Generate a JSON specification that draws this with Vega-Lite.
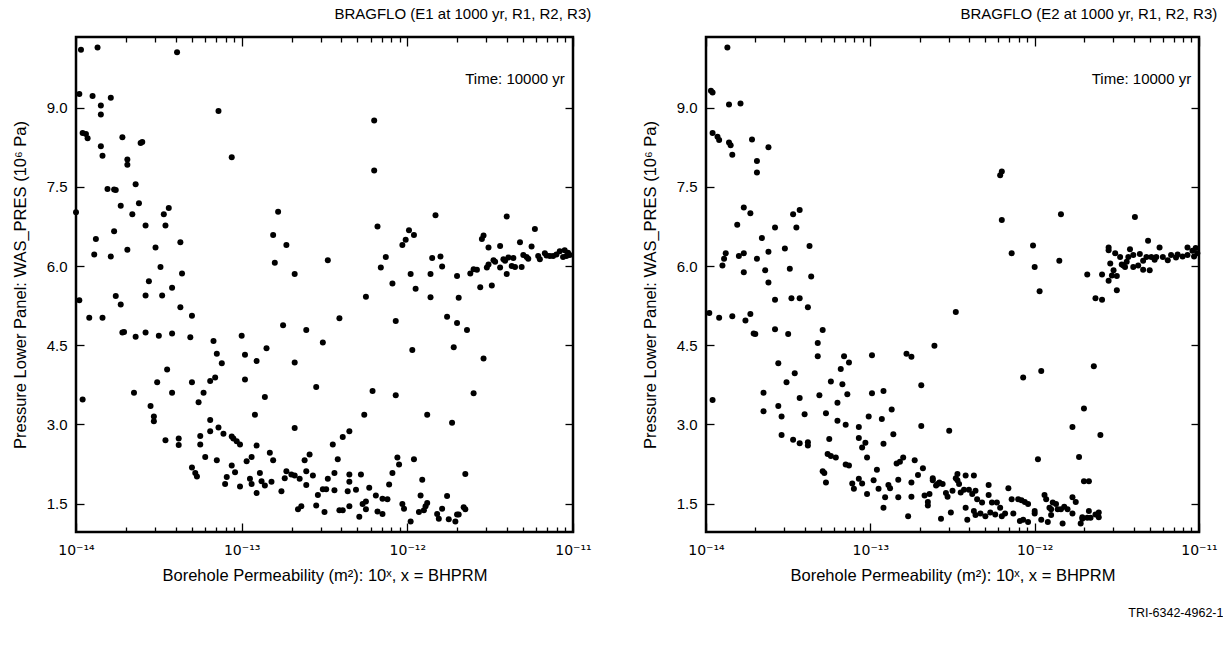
{
  "$schema": "https://vega.github.io/schema/vega-lite/v6.json",
  "background": "white",
  "padding": {"left": 10, "top": 6, "right": 24, "bottom": 5},
  "config": {
    "font": "Liberation Sans",
    "view": {"stroke": "black", "strokeWidth": 2.5},
    "axis": {"labelColor": "black", "titleColor": "black", "tickColor": "black", "tickWidth": 1.3, "labelFontSize": 15, "titleFontSize": 16.5, "titleFontWeight": "normal", "domain": false, "grid": false},
    "title": {"color": "black", "fontWeight": "normal"}
  },
  "datasets": {
    "e1": [
      {"bhprm": -14.00, "pres": 7.02}, {"bhprm": -13.98, "pres": 9.26}, {"bhprm": -13.98, "pres": 5.35}, {"bhprm": -13.97, "pres": 10.10}, {"bhprm": -13.96, "pres": 8.52}, {"bhprm": -13.94, "pres": 8.50}, {"bhprm": -13.93, "pres": 8.42}, {"bhprm": -13.92, "pres": 5.02}, {"bhprm": -13.89, "pres": 6.22}, {"bhprm": -13.88, "pres": 6.51}, {"bhprm": -13.87, "pres": 10.14}, {"bhprm": -13.90, "pres": 9.22}, {"bhprm": -13.85, "pres": 9.04}, {"bhprm": -13.85, "pres": 8.87}, {"bhprm": -13.85, "pres": 8.27}, {"bhprm": -13.84, "pres": 8.09}, {"bhprm": -13.84, "pres": 5.02}, {"bhprm": -13.81, "pres": 7.46}, {"bhprm": -13.79, "pres": 9.19}, {"bhprm": -13.79, "pres": 6.18}, {"bhprm": -13.77, "pres": 7.45}, {"bhprm": -13.76, "pres": 7.44}, {"bhprm": -13.77, "pres": 6.66}, {"bhprm": -13.76, "pres": 5.43}, {"bhprm": -13.73, "pres": 7.14}, {"bhprm": -13.73, "pres": 5.27}, {"bhprm": -13.72, "pres": 8.44}, {"bhprm": -13.69, "pres": 8.02}, {"bhprm": -13.69, "pres": 7.92}, {"bhprm": -13.69, "pres": 6.31}, {"bhprm": -13.66, "pres": 6.98}, {"bhprm": -13.64, "pres": 7.55}, {"bhprm": -13.62, "pres": 7.19}, {"bhprm": -13.61, "pres": 8.33}, {"bhprm": -13.60, "pres": 8.35}, {"bhprm": -13.58, "pres": 6.77}, {"bhprm": -13.58, "pres": 5.44}, {"bhprm": -13.56, "pres": 5.71}, {"bhprm": -13.52, "pres": 6.35}, {"bhprm": -13.49, "pres": 5.98}, {"bhprm": -13.47, "pres": 6.98}, {"bhprm": -13.48, "pres": 5.44}, {"bhprm": -13.46, "pres": 6.77}, {"bhprm": -13.44, "pres": 7.10}, {"bhprm": -13.42, "pres": 5.59}, {"bhprm": -13.39, "pres": 10.05}, {"bhprm": -13.37, "pres": 6.45}, {"bhprm": -13.36, "pres": 5.86}, {"bhprm": -13.37, "pres": 5.22}, {"bhprm": -13.30, "pres": 5.06}, {"bhprm": -13.14, "pres": 8.94}, {"bhprm": -13.06, "pres": 8.06}, {"bhprm": -12.81, "pres": 6.59}, {"bhprm": -12.78, "pres": 7.03}, {"bhprm": -12.80, "pres": 6.06}, {"bhprm": -12.73, "pres": 6.40}, {"bhprm": -12.75, "pres": 4.88}, {"bhprm": -12.68, "pres": 5.85}, {"bhprm": -12.61, "pres": 4.79}, {"bhprm": -12.48, "pres": 6.11}, {"bhprm": -12.41, "pres": 5.01}, {"bhprm": -12.25, "pres": 5.42}, {"bhprm": -12.20, "pres": 8.76}, {"bhprm": -12.20, "pres": 7.81}, {"bhprm": -12.18, "pres": 6.75}, {"bhprm": -12.16, "pres": 5.97}, {"bhprm": -12.13, "pres": 6.17}, {"bhprm": -12.09, "pres": 5.67}, {"bhprm": -12.07, "pres": 4.96}, {"bhprm": -12.03, "pres": 6.40}, {"bhprm": -12.01, "pres": 6.50}, {"bhprm": -11.99, "pres": 6.68}, {"bhprm": -11.96, "pres": 6.59}, {"bhprm": -11.98, "pres": 5.85}, {"bhprm": -11.95, "pres": 5.57}, {"bhprm": -11.86, "pres": 5.85}, {"bhprm": -11.86, "pres": 5.41}, {"bhprm": -11.85, "pres": 6.15}, {"bhprm": -11.83, "pres": 6.96}, {"bhprm": -11.80, "pres": 6.18}, {"bhprm": -11.79, "pres": 5.99}, {"bhprm": -11.76, "pres": 5.04}, {"bhprm": -11.70, "pres": 5.81}, {"bhprm": -11.69, "pres": 5.40}, {"bhprm": -11.70, "pres": 4.92}, {"bhprm": -11.64, "pres": 4.79}, {"bhprm": -11.62, "pres": 5.86}, {"bhprm": -11.60, "pres": 5.94}, {"bhprm": -11.58, "pres": 5.93}, {"bhprm": -11.56, "pres": 5.60}, {"bhprm": -11.55, "pres": 6.51}, {"bhprm": -11.54, "pres": 6.58}, {"bhprm": -11.52, "pres": 5.97}, {"bhprm": -11.51, "pres": 6.03}, {"bhprm": -11.51, "pres": 6.35}, {"bhprm": -11.49, "pres": 5.63}, {"bhprm": -11.48, "pres": 6.11}, {"bhprm": -11.47, "pres": 6.08}, {"bhprm": -11.44, "pres": 6.38}, {"bhprm": -11.44, "pres": 5.97}, {"bhprm": -11.42, "pres": 6.13}, {"bhprm": -11.40, "pres": 6.94}, {"bhprm": -11.40, "pres": 5.85}, {"bhprm": -11.41, "pres": 6.10}, {"bhprm": -11.39, "pres": 6.16}, {"bhprm": -11.37, "pres": 6.00}, {"bhprm": -11.36, "pres": 6.15}, {"bhprm": -11.35, "pres": 5.98}, {"bhprm": -11.32, "pres": 6.45}, {"bhprm": -11.31, "pres": 5.98}, {"bhprm": -11.30, "pres": 6.21}, {"bhprm": -11.28, "pres": 6.17}, {"bhprm": -11.27, "pres": 6.14}, {"bhprm": -11.25, "pres": 6.37}, {"bhprm": -11.23, "pres": 6.70}, {"bhprm": -11.21, "pres": 6.19}, {"bhprm": -11.20, "pres": 6.13}, {"bhprm": -11.17, "pres": 6.24}, {"bhprm": -11.16, "pres": 6.20}, {"bhprm": -11.14, "pres": 6.19}, {"bhprm": -11.12, "pres": 6.19}, {"bhprm": -11.10, "pres": 6.22}, {"bhprm": -11.08, "pres": 6.28}, {"bhprm": -11.06, "pres": 6.17}, {"bhprm": -11.05, "pres": 6.30}, {"bhprm": -11.04, "pres": 6.19}, {"bhprm": -11.03, "pres": 6.25}, {"bhprm": -11.02, "pres": 6.21},
      {"bhprm": -13.96, "pres": 3.47}, {"bhprm": -13.72, "pres": 4.74}, {"bhprm": -13.71, "pres": 4.75}, {"bhprm": -13.64, "pres": 4.66}, {"bhprm": -13.65, "pres": 3.60}, {"bhprm": -13.58, "pres": 4.74}, {"bhprm": -13.55, "pres": 3.35}, {"bhprm": -13.53, "pres": 3.15}, {"bhprm": -13.53, "pres": 3.06}, {"bhprm": -13.50, "pres": 4.68}, {"bhprm": -13.51, "pres": 3.80}, {"bhprm": -13.45, "pres": 4.04}, {"bhprm": -13.46, "pres": 2.70}, {"bhprm": -13.42, "pres": 3.60}, {"bhprm": -13.42, "pres": 4.72}, {"bhprm": -13.38, "pres": 2.73}, {"bhprm": -13.38, "pres": 2.61}, {"bhprm": -13.31, "pres": 4.65}, {"bhprm": -13.30, "pres": 3.80}, {"bhprm": -13.30, "pres": 2.18}, {"bhprm": -13.28, "pres": 2.08}, {"bhprm": -13.27, "pres": 2.01}, {"bhprm": -13.26, "pres": 3.42}, {"bhprm": -13.25, "pres": 2.62}, {"bhprm": -13.25, "pres": 2.78}, {"bhprm": -13.23, "pres": 3.60}, {"bhprm": -13.22, "pres": 2.38}, {"bhprm": -13.19, "pres": 3.82}, {"bhprm": -13.16, "pres": 3.89}, {"bhprm": -13.19, "pres": 3.08}, {"bhprm": -13.19, "pres": 2.87}, {"bhprm": -13.17, "pres": 4.58}, {"bhprm": -13.15, "pres": 4.34}, {"bhprm": -13.15, "pres": 2.32}, {"bhprm": -13.14, "pres": 2.94}, {"bhprm": -13.12, "pres": 4.16}, {"bhprm": -13.11, "pres": 2.82}, {"bhprm": -13.10, "pres": 1.87}, {"bhprm": -13.09, "pres": 2.00}, {"bhprm": -13.06, "pres": 2.22}, {"bhprm": -13.06, "pres": 2.77}, {"bhprm": -13.05, "pres": 2.73}, {"bhprm": -13.03, "pres": 2.68}, {"bhprm": -13.01, "pres": 2.62}, {"bhprm": -13.04, "pres": 2.09}, {"bhprm": -13.01, "pres": 1.82}, {"bhprm": -13.00, "pres": 4.68}, {"bhprm": -12.98, "pres": 4.32}, {"bhprm": -12.98, "pres": 3.85}, {"bhprm": -12.97, "pres": 2.30}, {"bhprm": -12.94, "pres": 2.38}, {"bhprm": -12.95, "pres": 1.97}, {"bhprm": -12.94, "pres": 1.87}, {"bhprm": -12.92, "pres": 3.18}, {"bhprm": -12.91, "pres": 2.60}, {"bhprm": -12.91, "pres": 4.20}, {"bhprm": -12.91, "pres": 1.70}, {"bhprm": -12.89, "pres": 2.08}, {"bhprm": -12.88, "pres": 1.92}, {"bhprm": -12.86, "pres": 1.84}, {"bhprm": -12.86, "pres": 3.52}, {"bhprm": -12.85, "pres": 4.44}, {"bhprm": -12.83, "pres": 2.46}, {"bhprm": -12.81, "pres": 2.32}, {"bhprm": -12.82, "pres": 1.91}, {"bhprm": -12.76, "pres": 1.73}, {"bhprm": -12.74, "pres": 1.98}, {"bhprm": -12.73, "pres": 2.11}, {"bhprm": -12.70, "pres": 2.05}, {"bhprm": -12.68, "pres": 2.03}, {"bhprm": -12.65, "pres": 1.97}, {"bhprm": -12.68, "pres": 2.93}, {"bhprm": -12.68, "pres": 4.17}, {"bhprm": -12.66, "pres": 1.39}, {"bhprm": -12.64, "pres": 1.45}, {"bhprm": -12.61, "pres": 1.85}, {"bhprm": -12.62, "pres": 2.32}, {"bhprm": -12.61, "pres": 2.11}, {"bhprm": -12.59, "pres": 2.43}, {"bhprm": -12.57, "pres": 2.03}, {"bhprm": -12.55, "pres": 3.71}, {"bhprm": -12.55, "pres": 1.46}, {"bhprm": -12.54, "pres": 1.66}, {"bhprm": -12.51, "pres": 4.55}, {"bhprm": -12.51, "pres": 1.77}, {"bhprm": -12.49, "pres": 1.77}, {"bhprm": -12.44, "pres": 1.75}, {"bhprm": -12.50, "pres": 1.34}, {"bhprm": -12.48, "pres": 1.97}, {"bhprm": -12.45, "pres": 2.62}, {"bhprm": -12.44, "pres": 2.08}, {"bhprm": -12.42, "pres": 2.34}, {"bhprm": -12.41, "pres": 1.37}, {"bhprm": -12.39, "pres": 1.37}, {"bhprm": -12.39, "pres": 2.76}, {"bhprm": -12.35, "pres": 2.87}, {"bhprm": -12.36, "pres": 1.73}, {"bhprm": -12.35, "pres": 2.05}, {"bhprm": -12.35, "pres": 1.91}, {"bhprm": -12.35, "pres": 1.45}, {"bhprm": -12.31, "pres": 1.76}, {"bhprm": -12.29, "pres": 1.25}, {"bhprm": -12.28, "pres": 2.05}, {"bhprm": -12.27, "pres": 1.49}, {"bhprm": -12.25, "pres": 1.54}, {"bhprm": -12.25, "pres": 1.39}, {"bhprm": -12.26, "pres": 3.18}, {"bhprm": -12.23, "pres": 1.80}, {"bhprm": -12.21, "pres": 3.63}, {"bhprm": -12.19, "pres": 1.65}, {"bhprm": -12.18, "pres": 1.35}, {"bhprm": -12.15, "pres": 1.59}, {"bhprm": -12.12, "pres": 1.58}, {"bhprm": -12.15, "pres": 1.30}, {"bhprm": -12.11, "pres": 1.86}, {"bhprm": -12.09, "pres": 2.08}, {"bhprm": -12.07, "pres": 3.55}, {"bhprm": -12.06, "pres": 2.37}, {"bhprm": -12.05, "pres": 2.24}, {"bhprm": -12.03, "pres": 1.49}, {"bhprm": -12.02, "pres": 1.40}, {"bhprm": -11.98, "pres": 1.16}, {"bhprm": -11.97, "pres": 4.41}, {"bhprm": -11.96, "pres": 2.34}, {"bhprm": -11.93, "pres": 1.34}, {"bhprm": -11.92, "pres": 1.65}, {"bhprm": -11.91, "pres": 1.95}, {"bhprm": -11.90, "pres": 1.37}, {"bhprm": -11.89, "pres": 1.45}, {"bhprm": -11.88, "pres": 1.51}, {"bhprm": -11.88, "pres": 3.18}, {"bhprm": -11.82, "pres": 1.30}, {"bhprm": -11.81, "pres": 1.21}, {"bhprm": -11.79, "pres": 1.40}, {"bhprm": -11.76, "pres": 1.64}, {"bhprm": -11.75, "pres": 1.20}, {"bhprm": -11.71, "pres": 1.16}, {"bhprm": -11.73, "pres": 3.03}, {"bhprm": -11.72, "pres": 4.46}, {"bhprm": -11.70, "pres": 1.29}, {"bhprm": -11.69, "pres": 1.29}, {"bhprm": -11.66, "pres": 1.43}, {"bhprm": -11.65, "pres": 1.39}, {"bhprm": -11.65, "pres": 2.06}, {"bhprm": -11.60, "pres": 3.59}, {"bhprm": -11.54, "pres": 4.25}
    ],
    "e2": [
      {"bhprm": -13.97, "pres": 9.32}, {"bhprm": -13.96, "pres": 9.29}, {"bhprm": -13.96, "pres": 8.52}, {"bhprm": -13.93, "pres": 8.45}, {"bhprm": -13.92, "pres": 8.39}, {"bhprm": -13.98, "pres": 5.11}, {"bhprm": -13.92, "pres": 5.02}, {"bhprm": -13.90, "pres": 6.01}, {"bhprm": -13.89, "pres": 6.14}, {"bhprm": -13.88, "pres": 6.24}, {"bhprm": -13.87, "pres": 10.14}, {"bhprm": -13.86, "pres": 9.06}, {"bhprm": -13.79, "pres": 9.08}, {"bhprm": -13.86, "pres": 8.34}, {"bhprm": -13.85, "pres": 8.29}, {"bhprm": -13.84, "pres": 8.11}, {"bhprm": -13.84, "pres": 5.05}, {"bhprm": -13.81, "pres": 6.78}, {"bhprm": -13.80, "pres": 6.19}, {"bhprm": -13.77, "pres": 6.24}, {"bhprm": -13.77, "pres": 7.11}, {"bhprm": -13.73, "pres": 7.00}, {"bhprm": -13.77, "pres": 5.88}, {"bhprm": -13.76, "pres": 4.97}, {"bhprm": -13.73, "pres": 5.09}, {"bhprm": -13.72, "pres": 8.40}, {"bhprm": -13.69, "pres": 6.14}, {"bhprm": -13.69, "pres": 7.99}, {"bhprm": -13.69, "pres": 7.77}, {"bhprm": -13.66, "pres": 6.53}, {"bhprm": -13.64, "pres": 5.92}, {"bhprm": -13.62, "pres": 6.27}, {"bhprm": -13.62, "pres": 5.69}, {"bhprm": -13.62, "pres": 8.25}, {"bhprm": -13.58, "pres": 5.36}, {"bhprm": -13.58, "pres": 6.73}, {"bhprm": -13.52, "pres": 6.33}, {"bhprm": -13.49, "pres": 5.95}, {"bhprm": -13.48, "pres": 5.39}, {"bhprm": -13.47, "pres": 6.98}, {"bhprm": -13.43, "pres": 7.06}, {"bhprm": -13.45, "pres": 6.73}, {"bhprm": -13.43, "pres": 5.39}, {"bhprm": -13.38, "pres": 5.22}, {"bhprm": -13.37, "pres": 6.38}, {"bhprm": -13.36, "pres": 5.80}, {"bhprm": -12.48, "pres": 5.13}, {"bhprm": -12.21, "pres": 7.72}, {"bhprm": -12.20, "pres": 7.79}, {"bhprm": -12.20, "pres": 6.87}, {"bhprm": -12.14, "pres": 6.24}, {"bhprm": -12.01, "pres": 6.39}, {"bhprm": -12.00, "pres": 5.98}, {"bhprm": -11.97, "pres": 5.52}, {"bhprm": -11.85, "pres": 6.10}, {"bhprm": -11.84, "pres": 6.98}, {"bhprm": -11.68, "pres": 5.84}, {"bhprm": -11.63, "pres": 5.39}, {"bhprm": -11.59, "pres": 5.36}, {"bhprm": -11.59, "pres": 5.84}, {"bhprm": -11.55, "pres": 6.35}, {"bhprm": -11.55, "pres": 6.30}, {"bhprm": -11.55, "pres": 5.72}, {"bhprm": -11.54, "pres": 6.05}, {"bhprm": -11.52, "pres": 5.92}, {"bhprm": -11.53, "pres": 5.82}, {"bhprm": -11.50, "pres": 5.81}, {"bhprm": -11.51, "pres": 6.24}, {"bhprm": -11.50, "pres": 5.54}, {"bhprm": -11.48, "pres": 6.17}, {"bhprm": -11.47, "pres": 6.03}, {"bhprm": -11.46, "pres": 6.01}, {"bhprm": -11.45, "pres": 5.98}, {"bhprm": -11.44, "pres": 6.08}, {"bhprm": -11.43, "pres": 6.17}, {"bhprm": -11.42, "pres": 6.32}, {"bhprm": -11.40, "pres": 6.21}, {"bhprm": -11.39, "pres": 6.93}, {"bhprm": -11.40, "pres": 5.98}, {"bhprm": -11.37, "pres": 6.01}, {"bhprm": -11.34, "pres": 5.93}, {"bhprm": -11.36, "pres": 6.23}, {"bhprm": -11.34, "pres": 6.10}, {"bhprm": -11.32, "pres": 6.17}, {"bhprm": -11.31, "pres": 6.48}, {"bhprm": -11.30, "pres": 5.92}, {"bhprm": -11.29, "pres": 6.17}, {"bhprm": -11.27, "pres": 6.12}, {"bhprm": -11.26, "pres": 6.17}, {"bhprm": -11.24, "pres": 6.35}, {"bhprm": -11.22, "pres": 6.17}, {"bhprm": -11.19, "pres": 6.11}, {"bhprm": -11.17, "pres": 6.21}, {"bhprm": -11.14, "pres": 6.16}, {"bhprm": -11.13, "pres": 6.22}, {"bhprm": -11.10, "pres": 6.18}, {"bhprm": -11.07, "pres": 6.35}, {"bhprm": -11.07, "pres": 6.21}, {"bhprm": -11.04, "pres": 6.29}, {"bhprm": -11.03, "pres": 6.18}, {"bhprm": -11.02, "pres": 6.34}, {"bhprm": -11.01, "pres": 6.24},
      {"bhprm": -13.58, "pres": 4.80}, {"bhprm": -13.71, "pres": 4.72}, {"bhprm": -13.70, "pres": 4.71}, {"bhprm": -13.50, "pres": 4.71}, {"bhprm": -13.29, "pres": 4.79}, {"bhprm": -13.96, "pres": 3.46}, {"bhprm": -13.65, "pres": 3.60}, {"bhprm": -13.65, "pres": 3.25}, {"bhprm": -13.56, "pres": 4.16}, {"bhprm": -13.56, "pres": 3.35}, {"bhprm": -13.54, "pres": 3.15}, {"bhprm": -13.54, "pres": 2.80}, {"bhprm": -13.51, "pres": 3.80}, {"bhprm": -13.46, "pres": 3.97}, {"bhprm": -13.47, "pres": 2.71}, {"bhprm": -13.43, "pres": 3.50}, {"bhprm": -13.43, "pres": 2.64}, {"bhprm": -13.40, "pres": 3.19}, {"bhprm": -13.38, "pres": 2.66}, {"bhprm": -13.38, "pres": 2.60}, {"bhprm": -13.32, "pres": 4.54}, {"bhprm": -13.32, "pres": 4.29}, {"bhprm": -13.31, "pres": 3.55}, {"bhprm": -13.29, "pres": 2.11}, {"bhprm": -13.28, "pres": 2.08}, {"bhprm": -13.27, "pres": 1.90}, {"bhprm": -13.27, "pres": 3.21}, {"bhprm": -13.26, "pres": 2.44}, {"bhprm": -13.24, "pres": 2.40}, {"bhprm": -13.21, "pres": 2.37}, {"bhprm": -13.25, "pres": 2.72}, {"bhprm": -13.24, "pres": 3.81}, {"bhprm": -13.20, "pres": 3.41}, {"bhprm": -13.20, "pres": 3.07}, {"bhprm": -13.18, "pres": 4.05}, {"bhprm": -13.17, "pres": 3.76}, {"bhprm": -13.16, "pres": 4.29}, {"bhprm": -13.15, "pres": 2.99}, {"bhprm": -13.14, "pres": 3.57}, {"bhprm": -13.15, "pres": 2.24}, {"bhprm": -13.13, "pres": 2.22}, {"bhprm": -13.13, "pres": 4.17}, {"bhprm": -13.11, "pres": 1.88}, {"bhprm": -13.10, "pres": 1.78}, {"bhprm": -13.07, "pres": 2.95}, {"bhprm": -13.07, "pres": 2.74}, {"bhprm": -13.07, "pres": 1.97}, {"bhprm": -13.05, "pres": 1.88}, {"bhprm": -13.05, "pres": 2.56}, {"bhprm": -13.03, "pres": 2.65}, {"bhprm": -13.02, "pres": 1.68}, {"bhprm": -13.02, "pres": 2.37}, {"bhprm": -13.01, "pres": 3.15}, {"bhprm": -12.99, "pres": 4.31}, {"bhprm": -12.99, "pres": 3.59}, {"bhprm": -12.98, "pres": 1.94}, {"bhprm": -12.96, "pres": 2.14}, {"bhprm": -12.95, "pres": 1.78}, {"bhprm": -12.93, "pres": 3.10}, {"bhprm": -12.92, "pres": 3.63}, {"bhprm": -12.92, "pres": 2.63}, {"bhprm": -12.92, "pres": 1.42}, {"bhprm": -12.91, "pres": 1.62}, {"bhprm": -12.89, "pres": 1.85}, {"bhprm": -12.88, "pres": 1.79}, {"bhprm": -12.87, "pres": 3.28}, {"bhprm": -12.86, "pres": 2.81}, {"bhprm": -12.84, "pres": 2.26}, {"bhprm": -12.82, "pres": 2.29}, {"bhprm": -12.80, "pres": 2.37}, {"bhprm": -12.83, "pres": 1.95}, {"bhprm": -12.83, "pres": 1.62}, {"bhprm": -12.78, "pres": 4.34}, {"bhprm": -12.75, "pres": 4.28}, {"bhprm": -12.77, "pres": 1.26}, {"bhprm": -12.75, "pres": 1.90}, {"bhprm": -12.75, "pres": 1.63}, {"bhprm": -12.73, "pres": 2.32}, {"bhprm": -12.71, "pres": 2.04}, {"bhprm": -12.69, "pres": 3.74}, {"bhprm": -12.69, "pres": 2.97}, {"bhprm": -12.68, "pres": 2.17}, {"bhprm": -12.67, "pres": 1.65}, {"bhprm": -12.65, "pres": 1.53}, {"bhprm": -12.65, "pres": 1.46}, {"bhprm": -12.64, "pres": 1.68}, {"bhprm": -12.62, "pres": 1.98}, {"bhprm": -12.62, "pres": 1.94}, {"bhprm": -12.60, "pres": 1.84}, {"bhprm": -12.61, "pres": 4.49}, {"bhprm": -12.59, "pres": 1.87}, {"bhprm": -12.58, "pres": 1.90}, {"bhprm": -12.56, "pres": 1.87}, {"bhprm": -12.57, "pres": 1.21}, {"bhprm": -12.54, "pres": 1.70}, {"bhprm": -12.53, "pres": 1.63}, {"bhprm": -12.52, "pres": 2.88}, {"bhprm": -12.51, "pres": 1.33}, {"bhprm": -12.50, "pres": 1.74}, {"bhprm": -12.48, "pres": 1.98}, {"bhprm": -12.47, "pres": 2.06}, {"bhprm": -12.47, "pres": 1.94}, {"bhprm": -12.46, "pres": 1.87}, {"bhprm": -12.45, "pres": 1.71}, {"bhprm": -12.43, "pres": 1.76}, {"bhprm": -12.42, "pres": 1.42}, {"bhprm": -12.42, "pres": 2.03}, {"bhprm": -12.41, "pres": 1.19}, {"bhprm": -12.40, "pres": 1.76}, {"bhprm": -12.38, "pres": 1.68}, {"bhprm": -12.37, "pres": 2.03}, {"bhprm": -12.37, "pres": 1.36}, {"bhprm": -12.36, "pres": 1.74}, {"bhprm": -12.35, "pres": 1.58}, {"bhprm": -12.36, "pres": 1.28}, {"bhprm": -12.33, "pres": 1.31}, {"bhprm": -12.32, "pres": 1.52}, {"bhprm": -12.30, "pres": 1.26}, {"bhprm": -12.28, "pres": 1.85}, {"bhprm": -12.28, "pres": 1.66}, {"bhprm": -12.26, "pres": 1.52}, {"bhprm": -12.27, "pres": 1.33}, {"bhprm": -12.24, "pres": 1.29}, {"bhprm": -12.23, "pres": 1.52}, {"bhprm": -12.21, "pres": 1.42}, {"bhprm": -12.20, "pres": 1.26}, {"bhprm": -12.18, "pres": 1.31}, {"bhprm": -12.16, "pres": 1.79}, {"bhprm": -12.14, "pres": 1.58}, {"bhprm": -12.13, "pres": 1.31}, {"bhprm": -12.10, "pres": 1.58}, {"bhprm": -12.08, "pres": 1.56}, {"bhprm": -12.06, "pres": 1.53}, {"bhprm": -12.04, "pres": 1.49}, {"bhprm": -12.09, "pres": 1.17}, {"bhprm": -12.07, "pres": 1.19}, {"bhprm": -12.04, "pres": 1.15}, {"bhprm": -12.07, "pres": 3.89}, {"bhprm": -12.00, "pres": 1.36}, {"bhprm": -12.00, "pres": 1.31}, {"bhprm": -11.98, "pres": 2.34}, {"bhprm": -11.96, "pres": 4.01}, {"bhprm": -11.96, "pres": 1.19}, {"bhprm": -11.94, "pres": 1.66}, {"bhprm": -11.93, "pres": 1.58}, {"bhprm": -11.92, "pres": 1.15}, {"bhprm": -11.91, "pres": 1.42}, {"bhprm": -11.90, "pres": 1.39}, {"bhprm": -11.89, "pres": 1.52}, {"bhprm": -11.87, "pres": 1.49}, {"bhprm": -11.86, "pres": 1.39}, {"bhprm": -11.84, "pres": 1.39}, {"bhprm": -11.82, "pres": 1.44}, {"bhprm": -11.80, "pres": 1.39}, {"bhprm": -11.90, "pres": 1.28}, {"bhprm": -11.83, "pres": 1.12}, {"bhprm": -11.77, "pres": 2.95}, {"bhprm": -11.77, "pres": 1.62}, {"bhprm": -11.75, "pres": 1.53}, {"bhprm": -11.77, "pres": 1.31}, {"bhprm": -11.73, "pres": 2.38}, {"bhprm": -11.72, "pres": 1.12}, {"bhprm": -11.71, "pres": 1.21}, {"bhprm": -11.70, "pres": 3.30}, {"bhprm": -11.70, "pres": 1.92}, {"bhprm": -11.67, "pres": 1.92}, {"bhprm": -11.71, "pres": 1.24}, {"bhprm": -11.68, "pres": 1.23}, {"bhprm": -11.66, "pres": 1.23}, {"bhprm": -11.67, "pres": 1.36}, {"bhprm": -11.64, "pres": 4.10}, {"bhprm": -11.63, "pres": 1.29}, {"bhprm": -11.61, "pres": 1.33}, {"bhprm": -11.61, "pres": 1.24}, {"bhprm": -11.60, "pres": 2.80}
    ]
  },
  "title": {"text": "TRI-6342-4962-1", "orient": "bottom", "anchor": "end", "fontSize": 12.5, "fontWeight": "normal", "offset": 22, "dx": 5},
  "spacing": 47,
  "hconcat": [
    {
      "width": 497, "height": 495,
      "title": {"text": "BRAGFLO (E1 at 1000 yr, R1, R2, R3)", "anchor": "end", "fontSize": 15, "fontWeight": "normal", "offset": 14},
      "layer": [
        {
          "data": {"name": "e1"},
          "mark": {"type": "circle", "size": 36, "color": "black", "opacity": 1},
          "encoding": {
            "x": {"field": "bhprm", "type": "quantitative", "scale": {"domain": [-14, -11], "nice": false, "zero": false},
              "axis": {"orient": "bottom", "values": [-14, -13.699, -13.523, -13.398, -13.301, -13.222, -13.155, -13.097, -13.046, -13, -12.699, -12.523, -12.398, -12.301, -12.222, -12.155, -12.097, -12.046, -12, -11.699, -11.523, -11.398, -11.301, -11.222, -11.155, -11.097, -11.046, -11],
                "labelExpr": "datum.value == -14 ? '10⁻¹⁴' : datum.value == -13 ? '10⁻¹³' : datum.value == -12 ? '10⁻¹²' : datum.value == -11 ? '10⁻¹¹' : ''",
                "labelFont": "DejaVu Sans", "labelFontSize": 14,
                "tickSize": {"condition": {"test": "datum.value % 1 === 0", "value": -9}, "value": -5},
                "labelPadding": 20, "labelFlush": false, "labelOverlap": false,
                "title": "Borehole Permeability (m²): 10ˣ, x = BHPRM", "titlePadding": 6}},
            "y": {"field": "pres", "type": "quantitative", "scale": {"domain": [0.96, 10.34], "nice": false, "zero": false},
              "axis": {"orient": "left", "values": [1.5, 3, 4.5, 6, 7.5, 9], "format": ".1f", "tickSize": -8, "labelPadding": 17, "labelFlush": false,
                "title": "Pressure Lower Panel: WAS_PRES (10⁶ Pa)", "titlePadding": 18}}
          }
        },
        {
          "data": {"values": [{}]},
          "mark": {"type": "text", "text": "Time: 10000 yr", "fontSize": 15, "align": "center", "baseline": "middle", "color": "black"},
          "encoding": {
            "x": {"datum": -11.35, "type": "quantitative",
              "axis": {"orient": "top", "values": [-14, -13.699, -13.523, -13.398, -13.301, -13.222, -13.155, -13.097, -13.046, -13, -12.699, -12.523, -12.398, -12.301, -12.222, -12.155, -12.097, -12.046, -12, -11.699, -11.523, -11.398, -11.301, -11.222, -11.155, -11.097, -11.046, -11],
                "labels": false, "title": null,
                "tickSize": {"condition": {"test": "datum.value % 1 === 0", "value": -9}, "value": -5}}},
            "y": {"datum": 9.55, "type": "quantitative",
              "axis": {"orient": "right", "values": [1.5, 3, 4.5, 6, 7.5, 9], "labels": false, "title": null, "tickSize": -8}}
          }
        }
      ],
      "resolve": {"axis": {"x": "independent", "y": "independent"}}
    },
    {
      "width": 493, "height": 495,
      "title": {"text": "BRAGFLO (E2 at 1000 yr, R1, R2, R3)", "anchor": "end", "fontSize": 15, "fontWeight": "normal", "offset": 14},
      "layer": [
        {
          "data": {"name": "e2"},
          "mark": {"type": "circle", "size": 36, "color": "black", "opacity": 1},
          "encoding": {
            "x": {"field": "bhprm", "type": "quantitative", "scale": {"domain": [-14, -11], "nice": false, "zero": false},
              "axis": {"orient": "bottom", "values": [-14, -13.699, -13.523, -13.398, -13.301, -13.222, -13.155, -13.097, -13.046, -13, -12.699, -12.523, -12.398, -12.301, -12.222, -12.155, -12.097, -12.046, -12, -11.699, -11.523, -11.398, -11.301, -11.222, -11.155, -11.097, -11.046, -11],
                "labelExpr": "datum.value == -14 ? '10⁻¹⁴' : datum.value == -13 ? '10⁻¹³' : datum.value == -12 ? '10⁻¹²' : datum.value == -11 ? '10⁻¹¹' : ''",
                "labelFont": "DejaVu Sans", "labelFontSize": 14,
                "tickSize": {"condition": {"test": "datum.value % 1 === 0", "value": -9}, "value": -5},
                "labelPadding": 20, "labelFlush": false, "labelOverlap": false,
                "title": "Borehole Permeability (m²): 10ˣ, x = BHPRM", "titlePadding": 6}},
            "y": {"field": "pres", "type": "quantitative", "scale": {"domain": [0.96, 10.34], "nice": false, "zero": false},
              "axis": {"orient": "left", "values": [1.5, 3, 4.5, 6, 7.5, 9], "format": ".1f", "tickSize": -8, "labelPadding": 17, "labelFlush": false,
                "title": "Pressure Lower Panel: WAS_PRES (10⁶ Pa)", "titlePadding": 18}}
          }
        },
        {
          "data": {"values": [{}]},
          "mark": {"type": "text", "text": "Time: 10000 yr", "fontSize": 15, "align": "center", "baseline": "middle", "color": "black"},
          "encoding": {
            "x": {"datum": -11.35, "type": "quantitative",
              "axis": {"orient": "top", "values": [-14, -13.699, -13.523, -13.398, -13.301, -13.222, -13.155, -13.097, -13.046, -13, -12.699, -12.523, -12.398, -12.301, -12.222, -12.155, -12.097, -12.046, -12, -11.699, -11.523, -11.398, -11.301, -11.222, -11.155, -11.097, -11.046, -11],
                "labels": false, "title": null,
                "tickSize": {"condition": {"test": "datum.value % 1 === 0", "value": -9}, "value": -5}}},
            "y": {"datum": 9.55, "type": "quantitative",
              "axis": {"orient": "right", "values": [1.5, 3, 4.5, 6, 7.5, 9], "labels": false, "title": null, "tickSize": -8}}
          }
        }
      ],
      "resolve": {"axis": {"x": "independent", "y": "independent"}}
    }
  ]
}
